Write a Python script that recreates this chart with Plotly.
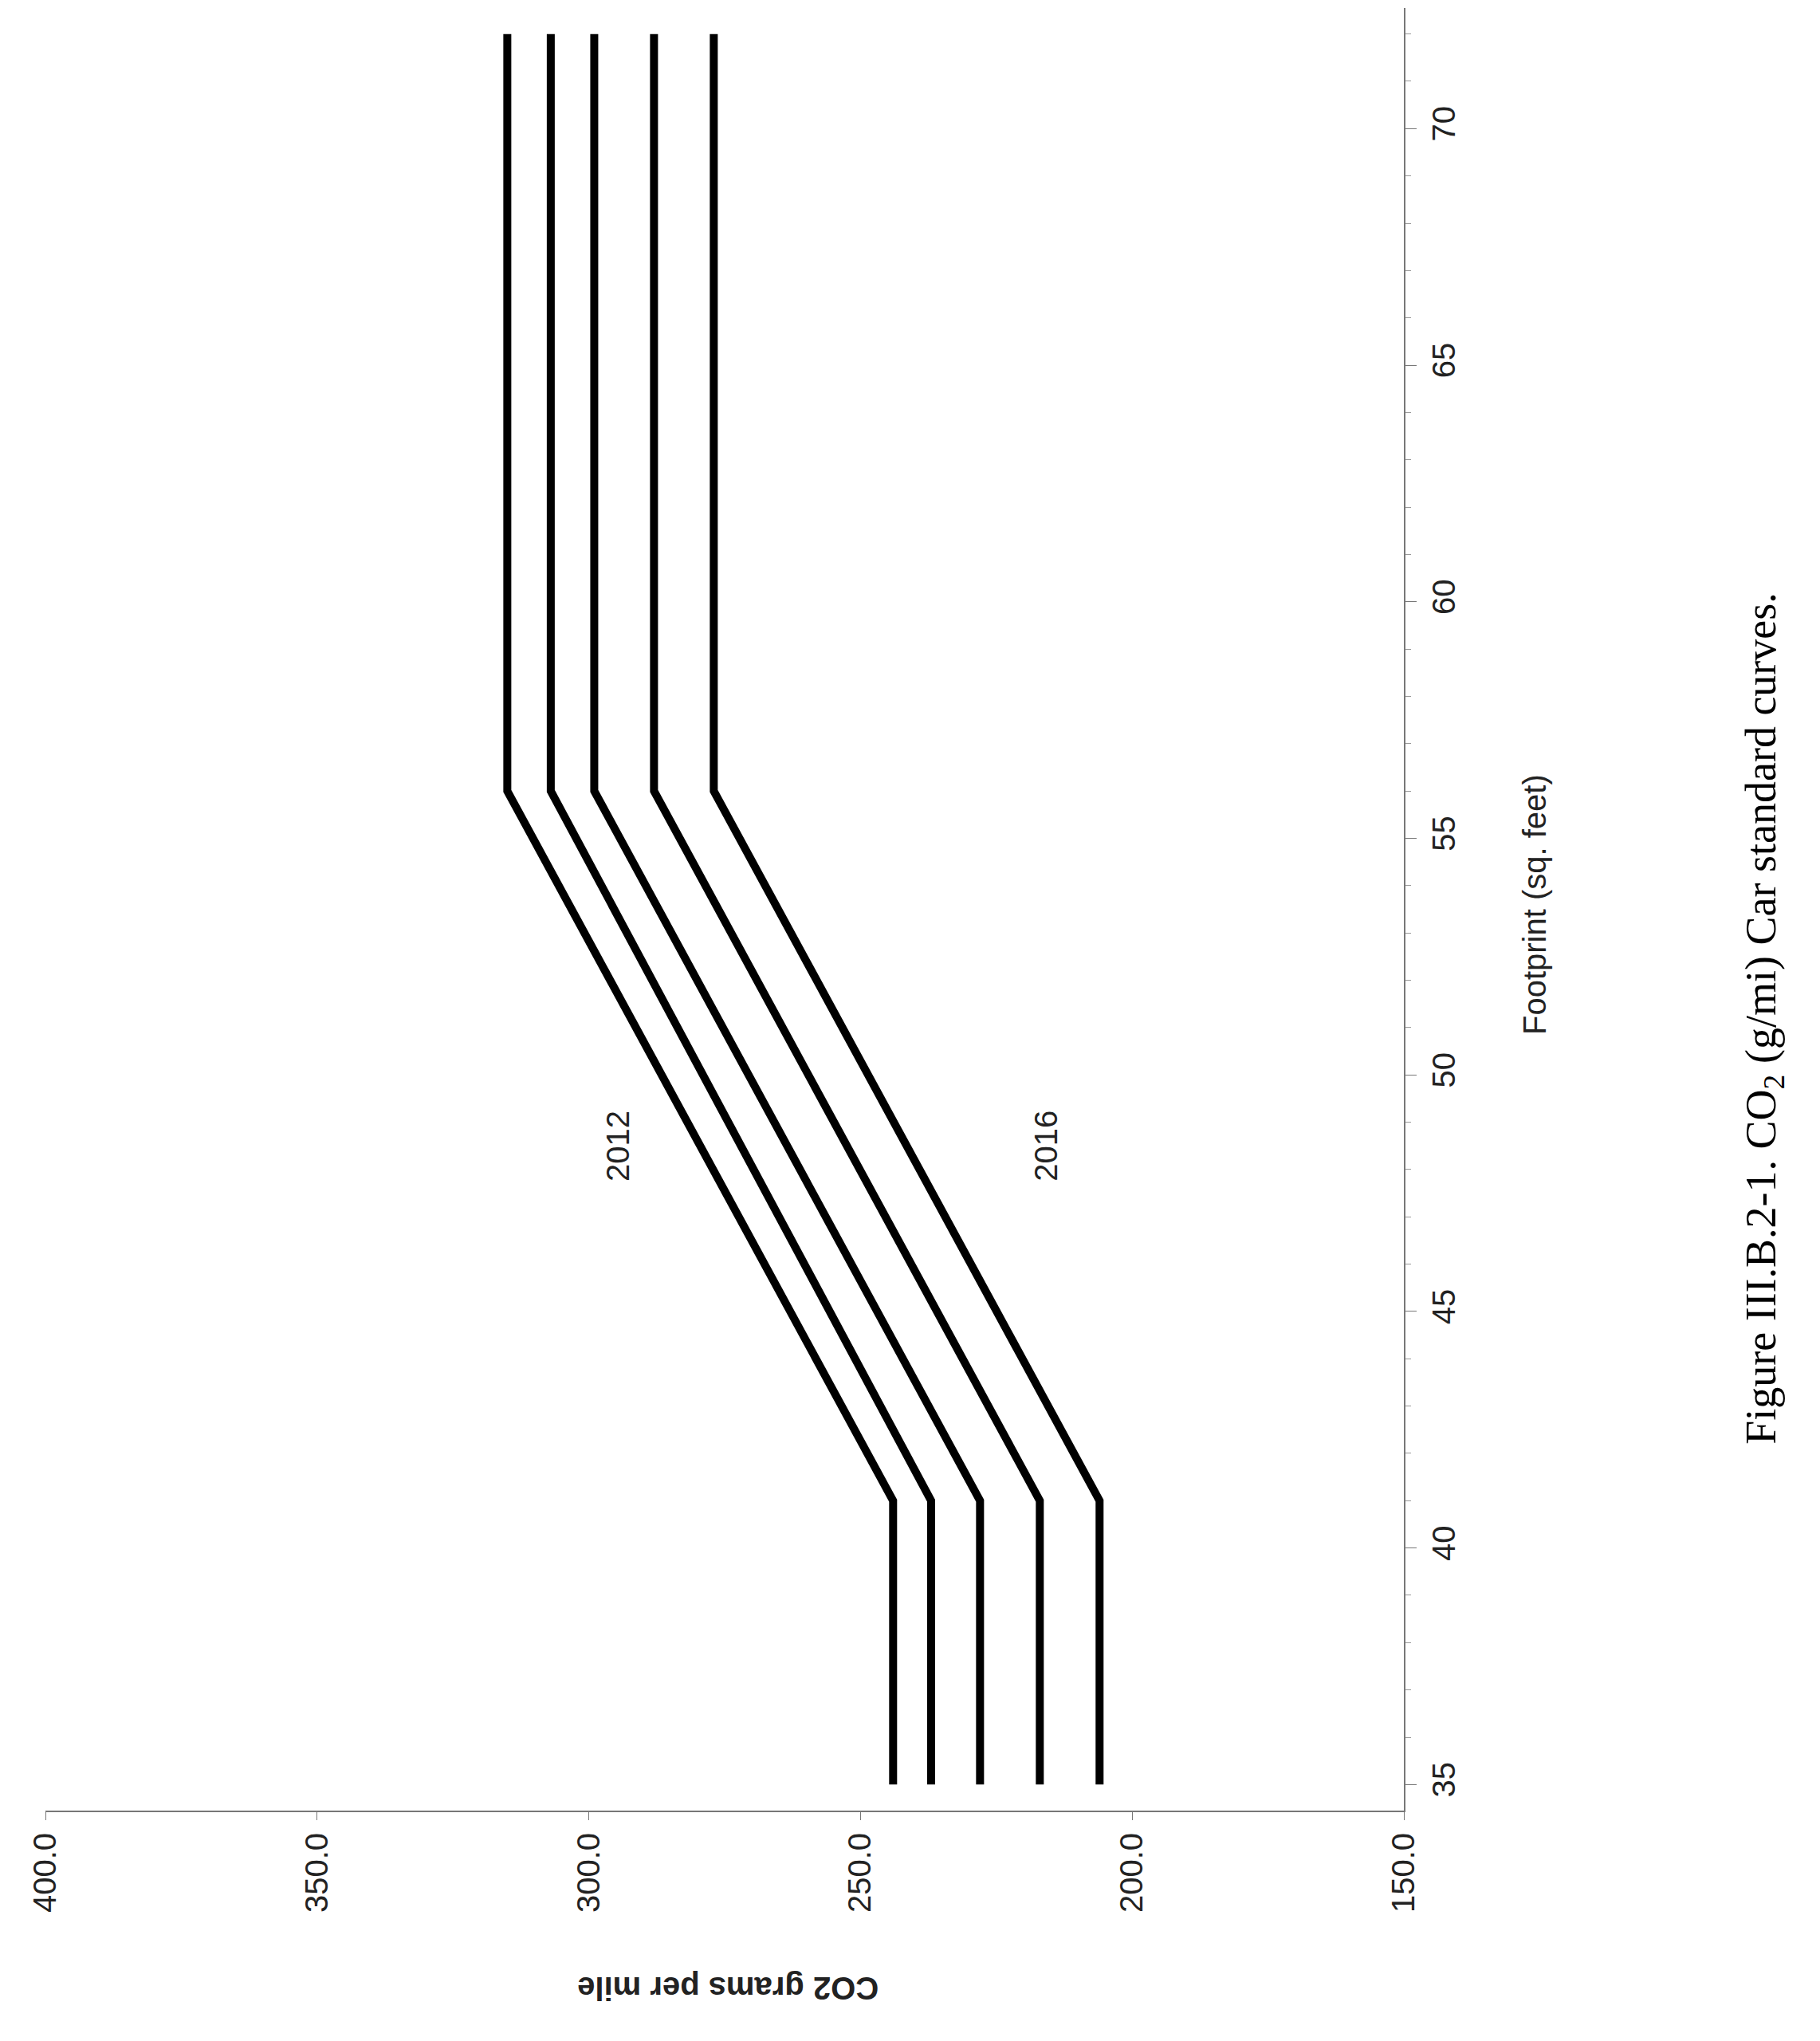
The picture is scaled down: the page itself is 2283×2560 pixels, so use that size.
import plotly.graph_objects as go

years = ["2012", "2013", "2014", "2015", "2016"]
footprint = [35, 41, 56, 72]
co2_min = [244, 237, 228, 217, 206]
co2_max = [315, 307, 299, 288, 277]

fig = go.Figure()
for lo, hi in zip(co2_min, co2_max):
    fig.add_trace(go.Scatter(x=[lo, lo, hi, hi], y=footprint, mode="lines",
                             line=dict(color="black", width=10), showlegend=False))

tf = dict(family="Liberation Sans", size=40, color="#222")
fig.update_layout(
    width=2283, height=2560, plot_bgcolor="white", paper_bgcolor="white",
    margin=dict(l=49, r=530, t=2, b=297),
    xaxis=dict(range=[400, 150], tickvals=[400, 350, 300, 250, 200, 150], tickformat=".1f",
               tickangle=-90, showgrid=False, zeroline=False, showline=True,
               linecolor="#777", linewidth=2, ticks="outside", ticklen=10, tickcolor="#777",
               tickfont=tf),
    yaxis=dict(range=[34.45, 72.55], side="right", dtick=5, tick0=35, tickangle=-90,
               showgrid=False, zeroline=False, showline=True, linecolor="#777", linewidth=2,
               ticks="outside", ticklen=14, tickcolor="#777", tickfont=tf,
               minor=dict(dtick=1, ticks="outside", ticklen=7, tickcolor="#999")),
)
fig.add_annotation(x=294.7, y=48.5, text="2012", showarrow=False, textangle=-90, font=tf)
fig.add_annotation(x=215.8, y=48.5, text="2016", showarrow=False, textangle=-90, font=tf)
fig.add_annotation(xref="paper", x=1.110, y=53.6, text="Footprint (sq. feet)", showarrow=False,
                   textangle=-90, font=tf)
fig.add_annotation(x=274.4, yref="paper", y=-0.109, text="<b>CO2 grams per mile</b>",
                   showarrow=False, textangle=180, font=tf)
fig.add_annotation(xref="paper", x=1.286, y=51.2,
                   text="Figure III.B.2-1. CO<sub>2</sub> (g/mi) Car standard curves.",
                   showarrow=False, textangle=-90,
                   font=dict(family="Liberation Serif", size=54, color="black"))
fig.write_html("out.html")
